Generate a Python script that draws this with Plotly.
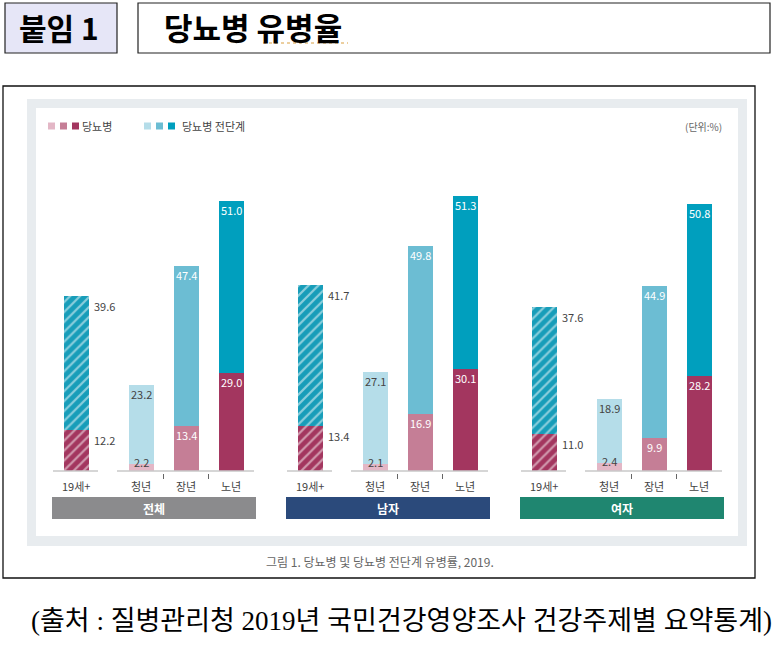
import plotly.graph_objects as go

W, H = 775, 652

groups = ["전체", "남자", "여자"]
categories = ["19세+", "청년", "장년", "노년"]

diab_total = [12.2, 2.2, 13.4, 29.0]
diab_male = [13.4, 2.1, 16.9, 30.1]
diab_female = [11.0, 2.4, 9.9, 28.2]

pre_total = [39.6, 23.2, 47.4, 51.0]
pre_male = [41.7, 27.1, 49.8, 51.3]
pre_female = [37.6, 18.9, 44.9, 50.8]

diab_colors = ["#a3365f", "#e3b7c6", "#c57e96", "#a3365f"]
pre_colors = ["#179db9", "#b5dde9", "#6cbdd3", "#009fbe"]
group_colors = ["#8b8b8d", "#2b4a7b", "#1f8670"]

FONT = "Noto Sans CJK KR"
DARK = "#444444"

# layout in pixels
cat_off = [0, 65, 110, 155]
grp_x0, grp_step = 76, 234
bar_w = 25
base_px = 471
px_per_unit = 3.38
y_span = H / px_per_unit
y_min = -(1 - base_px / H) * y_span


def px(x):
    return x / W


def py(y):
    return 1 - y / H


def label(text, x, y, size, color, xref="paper", yref="paper", xanchor="center", yshift=0, family=FONT):
    return dict(text=text, x=x, y=y, xref=xref, yref=yref, xanchor=xanchor, yanchor="middle",
                yshift=yshift, showarrow=False, font=dict(family=family, size=size, color=color))


diab = [diab_total, diab_male, diab_female]
pre = [pre_total, pre_male, pre_female]

xs, d_vals, p_vals, d_cols, p_cols, shapes_pat = [], [], [], [], [], []
for g in range(len(groups)):
    for c in range(len(categories)):
        xs.append(grp_x0 + grp_step * g + cat_off[c])
        d_vals.append(diab[g][c])
        p_vals.append(pre[g][c])
        d_cols.append(diab_colors[c])
        p_cols.append(pre_colors[c])
        shapes_pat.append("/" if c == 0 else "")

fig = go.Figure()
for vals, cols, name in ((d_vals, d_cols, "당뇨병"), (p_vals, p_cols, "당뇨병 전단계")):
    fig.add_trace(go.Bar(
        x=xs, y=vals, width=bar_w, name=name,
        marker=dict(color=cols, line=dict(width=0),
                    pattern=dict(shape=shapes_pat, fillmode="overlay", fgcolor="white",
                                 size=7, solidity=0.32)),
        hoverinfo="skip",
    ))

shapes = []
annos = []

# header boxes
shapes.append(dict(type="rect", xref="paper", yref="paper", x0=px(5), x1=px(117), y0=py(53), y1=py(3),
                   fillcolor="#e6e6f7", line=dict(color="#222", width=1.2), layer="below"))
shapes.append(dict(type="rect", xref="paper", yref="paper", x0=px(138), x1=px(770), y0=py(53), y1=py(3),
                   fillcolor="white", line=dict(color="#222", width=1.2), layer="below"))
shapes.append(dict(type="line", xref="paper", yref="paper", x0=px(263), x1=px(348), y0=py(43), y1=py(43),
                   line=dict(color="#d9a040", width=1.2, dash="dot")))
annos.append(label("<b>붙임 1</b>", px(59), py(27), 30, "black"))
annos.append(label("<b>당뇨병 유병율</b>", px(162), py(27), 31, "black", xanchor="left"))

# chart frame and panels
shapes.append(dict(type="rect", xref="paper", yref="paper", x0=px(3), x1=px(755), y0=py(578), y1=py(86),
                   fillcolor="white", line=dict(color="#111", width=1.3), layer="below"))
shapes.append(dict(type="rect", xref="paper", yref="paper", x0=px(27), x1=px(747), y0=py(546), y1=py(99),
                   fillcolor="#e8ecef", line=dict(width=0), layer="below"))
shapes.append(dict(type="rect", xref="paper", yref="paper", x0=px(36), x1=px(738), y0=py(536), y1=py(108),
                   fillcolor="white", line=dict(width=0), layer="below"))

# legend
legend_sets = [[diab_colors[1], diab_colors[2], diab_colors[3]],
               [pre_colors[1], pre_colors[2], pre_colors[3]]]
for k, cols in enumerate(legend_sets):
    for i in range(3):
        x0 = [48, 144][k] + i * 12
        shapes.append(dict(type="rect", xref="paper", yref="paper", x0=px(x0), x1=px(x0 + 7),
                           y0=py(129.5), y1=py(122.5), fillcolor=cols[i], line=dict(width=0)))
annos.append(label("당뇨병", px(80), py(126), 11, DARK, xanchor="left"))
annos.append(label("당뇨병 전단계", px(180), py(126), 11, DARK, xanchor="left"))
annos.append(label("(단위:%)", px(724), py(127), 10, "#666", xanchor="right"))

for g in range(len(groups)):
    gx = grp_x0 + grp_step * g
    # baselines
    shapes.append(dict(type="line", xref="x", yref="y", x0=gx - 23, x1=gx + 22, y0=0, y1=0,
                       line=dict(color="#c9c9c9", width=1.5)))
    shapes.append(dict(type="line", xref="x", yref="y", x0=gx + cat_off[1] - 24, x1=gx + cat_off[3] + 23,
                       y0=0, y1=0, line=dict(color="#c9c9c9", width=1.5)))
    for c in (1, 2):
        tx = gx + (cat_off[c] + cat_off[c + 1]) / 2
        shapes.append(dict(type="line", xref="x", yref="paper", x0=tx, x1=tx, y0=py(474), y1=py(479),
                           line=dict(color="#666", width=1)))
    # category labels
    for c, cat in enumerate(categories):
        annos.append(label(cat, gx + cat_off[c], py(486), 11, DARK, xref="x"))
    # group box
    shapes.append(dict(type="rect", xref="x", yref="paper", x0=gx - 24, x1=gx + cat_off[3] + 25,
                       y0=py(519), y1=py(497), fillcolor=group_colors[g], line=dict(width=0)))
    annos.append(label("<b>" + groups[g] + "</b>", gx + (cat_off[3] + 1) / 2, py(508), 12, "white", xref="x"))

    # value labels
    for c in range(len(categories)):
        x = gx + cat_off[c]
        d = diab[g][c]
        p = pre[g][c]
        for val, top in ((d, d), (p, d + p)):
            lab = f"{val:.1f}"
            if c == 0:
                annos.append(label(lab, x + bar_w / 2 + 3, top, 11, DARK, xref="x", yref="y",
                                   xanchor="left", yshift=-10))
            else:
                small = val * px_per_unit < 15
                annos.append(label(lab, x, top, 11, DARK if c == 1 else "white", xref="x", yref="y",
                                   yshift=2 if small else -9))

annos.append(label("그림 1. 당뇨병 및 당뇨병 전단계 유병률, 2019.", px(380), py(561), 12, "#666"))
annos.append(label("(출처 : 질병관리청 2019년 국민건강영양조사 건강주제별 요약통계)", px(401), py(621), 27,
                   "black", family="Liberation Serif, " + FONT))

fig.update_layout(
    width=W, height=H, autosize=False,
    margin=dict(l=0, r=0, t=0, b=0, pad=0),
    barmode="stack", bargap=0, showlegend=False,
    paper_bgcolor="white", plot_bgcolor="rgba(0,0,0,0)",
    xaxis=dict(range=[0, W], visible=False, fixedrange=True),
    yaxis=dict(range=[y_min, y_min + y_span], visible=False, fixedrange=True),
    shapes=shapes, annotations=annos,
)

# drop the default page margin so the figure sits at the top-left corner
fig.write_html("out.html", config={"displayModeBar": False},
               post_script="document.body.style.margin='0px';")
